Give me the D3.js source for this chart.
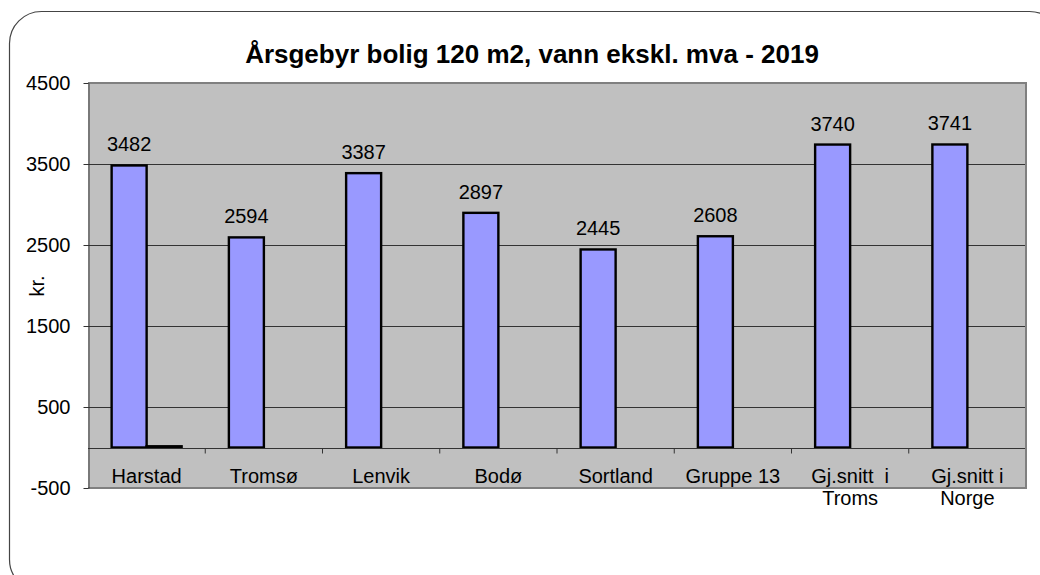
<!DOCTYPE html>
<html>
<head>
<meta charset="utf-8">
<script src="https://cdn.jsdelivr.net/npm/d3@7"></script>
<style>
  body { margin: 0; background: white; }
  svg { display: block; font-family: "Liberation Sans", Arial, sans-serif; }
</style>
</head>
<body>
<div id="chart"></div>
<script>
// Data
const categories = ["Harstad", "Tromsø", "Lenvik", "Bodø", "Sortland", "Gruppe 13", "Gj.snitt  i|Troms", "Gj.snitt i|Norge"];
const values = [3482, 2594, 3387, 2897, 2445, 2608, 3740, 3741];
const values2 = [15, null, null, null, null, null, null, null];
const yTicks = [-500, 500, 1500, 2500, 3500, 4500];

const width = 1040, height = 575;
const plot = { left: 88, right: 1026, top: 83, bottom: 488 };
const fontSize = "20px";

const svg = d3.select("#chart").append("svg")
  .attr("width", width).attr("height", height);

// Ramme
svg.append("rect")
  .attr("x", 9.5).attr("y", 11.5)
  .attr("width", 1052).attr("height", 580)
  .attr("rx", 32).attr("ry", 32)
  .attr("fill", "white")
  .attr("stroke", "#444").attr("stroke-width", 1.2);

const x = d3.scaleBand().domain(categories).range([plot.left, plot.right]).padding(0);
const y = d3.scaleLinear().domain([-500, 4500]).range([plot.bottom, plot.top]);
const barW = 35;

// Plotområde
svg.append("rect")
  .attr("x", plot.left).attr("y", plot.top)
  .attr("width", plot.right - plot.left).attr("height", plot.bottom - plot.top)
  .attr("fill", "#C0C0C0");

// Gitterlinjer
svg.append("g").selectAll("line")
  .data(yTicks.filter(d => d > -500 && d < 4500))
  .join("line")
  .attr("x1", plot.left).attr("x2", plot.right)
  .attr("y1", d => Math.round(y(d)) + 0.5).attr("y2", d => Math.round(y(d)) + 0.5)
  .attr("stroke", "#333").attr("stroke-width", 1);

// Søyler
svg.append("g").selectAll("rect")
  .data(values)
  .join("rect")
  .attr("x", (d, i) => x(categories[i]) + x.bandwidth() / 2 - barW)
  .attr("y", d => y(d))
  .attr("width", barW)
  .attr("height", d => y(0) - y(d))
  .attr("fill", "#9999FF")
  .attr("stroke", "black").attr("stroke-width", 2.4);

// Serie 2 (nesten null)
svg.append("g").selectAll("rect")
  .data(values2.map((d, i) => ({ d, i })).filter(o => o.d != null))
  .join("rect")
  .attr("x", o => x(categories[o.i]) + x.bandwidth() / 2)
  .attr("y", o => y(o.d))
  .attr("width", barW)
  .attr("height", o => Math.max(0.5, y(0) - y(o.d)))
  .attr("fill", "#993366")
  .attr("stroke", "black").attr("stroke-width", 2.4);

// Verdietiketter
svg.append("g").selectAll("text")
  .data(values)
  .join("text")
  .attr("x", (d, i) => x(categories[i]) + x.bandwidth() / 2 - barW / 2)
  .attr("y", d => y(d) - 14)
  .attr("text-anchor", "middle")
  .style("font-size", fontSize)
  .text(d => d);

// Kategoriakse ved 0
const y0 = Math.round(y(0)) + 0.5;
svg.append("line")
  .attr("x1", plot.left).attr("x2", plot.right)
  .attr("y1", y0).attr("y2", y0)
  .attr("stroke", "#333");
svg.append("g").selectAll("line")
  .data(d3.range(1, categories.length + 1))
  .join("line")
  .attr("x1", i => plot.left + i * x.bandwidth()).attr("x2", i => plot.left + i * x.bandwidth())
  .attr("y1", y0).attr("y2", y0 + 5)
  .attr("stroke", "#333");

// Kategorietiketter
const catLabels = svg.append("g").selectAll("text")
  .data(categories)
  .join("text")
  .attr("x", d => x(d) + x.bandwidth() / 2)
  .attr("y", 483)
  .attr("text-anchor", "middle")
  .style("font-size", fontSize);
catLabels.each(function (d) {
  const parts = d.split("|");
  const t = d3.select(this);
  parts.forEach((p, k) => {
    t.append("tspan")
      .attr("x", x(d) + x.bandwidth() / 2)
      .attr("dy", k === 0 ? 0 : 22)
      .style("white-space", "pre")
      .text(p);
  });
});

// Ramme rundt plotområde
svg.append("path")
  .attr("d", `M${plot.left},${plot.top}H${plot.right}V${plot.bottom}H${plot.left}`)
  .attr("fill", "none").attr("stroke", "#808080").attr("stroke-width", 2);

// Y-akse
const yAxis = svg.append("g")
  .attr("transform", `translate(${plot.left + 0.5},0)`)
  .call(d3.axisLeft(y).tickValues(yTicks).tickFormat(d => String(d)).tickSize(5).tickSizeOuter(0).tickPadding(13));
yAxis.select(".domain").attr("stroke", "#333");
yAxis.selectAll(".tick line").attr("stroke", "#333");
yAxis.selectAll(".tick text")
  .style("font-size", fontSize)
  .style("font-family", "'Liberation Sans', Arial, sans-serif")
  .attr("fill", "black");

// Aksetittel
svg.append("text")
  .attr("transform", "translate(44,286) rotate(-90)")
  .attr("text-anchor", "middle")
  .style("font-size", fontSize)
  .text("kr.");

// Tittel
svg.append("text")
  .attr("x", 532).attr("y", 63)
  .attr("text-anchor", "middle")
  .style("font-size", "26px")
  .style("font-weight", "bold")
  .text("Årsgebyr bolig 120 m2, vann ekskl. mva - 2019");
</script>
</body>
</html>
